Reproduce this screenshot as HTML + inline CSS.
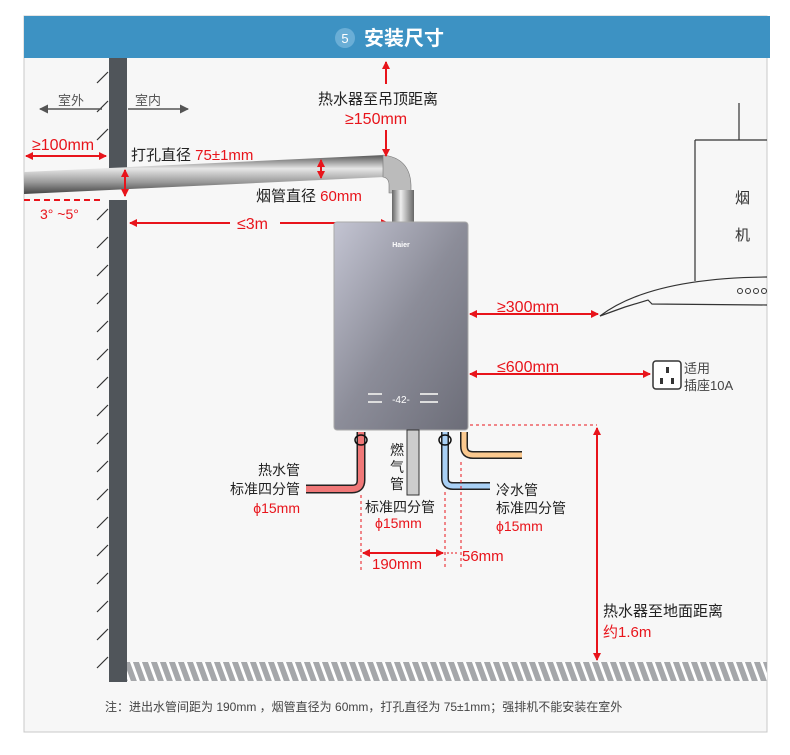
<!DOCTYPE html>
<html><head><meta charset="utf-8"><style>
body{margin:0;background:#fff;}
svg{display:block;font-family:"Liberation Sans","Noto Sans CJK SC",sans-serif;}
</style></head><body>
<svg width="790" height="755" viewBox="0 0 790 755" xmlns="http://www.w3.org/2000/svg">
<defs>
<marker id="a" markerWidth="8" markerHeight="8" refX="7" refY="4" orient="auto-start-reverse" markerUnits="userSpaceOnUse"><path d="M0,0 L8,4 L0,8z" fill="#e8141b"/></marker>
<marker id="g" markerWidth="9" markerHeight="9" refX="8" refY="4.5" orient="auto-start-reverse" markerUnits="userSpaceOnUse"><path d="M0,0 L9,4.5 L0,9z" fill="#555"/></marker>
<linearGradient id="pipe" x1="0" y1="0" x2="0" y2="1"><stop offset="0" stop-color="#555"/><stop offset=".35" stop-color="#e6e6e6"/><stop offset=".7" stop-color="#999"/><stop offset="1" stop-color="#444"/></linearGradient>
<linearGradient id="vp" x1="0" y1="0" x2="1" y2="0"><stop offset="0" stop-color="#666"/><stop offset=".4" stop-color="#eee"/><stop offset="1" stop-color="#666"/></linearGradient>
<linearGradient id="body" x1="0" y1="0" x2="1" y2="1"><stop offset="0" stop-color="#c3c4d2"/><stop offset=".5" stop-color="#8c8d99"/><stop offset="1" stop-color="#6c6d78"/></linearGradient>
<pattern id="hatch" width="9" height="18" patternUnits="userSpaceOnUse" patternTransform="skewX(20)"><rect width="9" height="18" fill="#a5a7aa"/><rect x="6" width="3" height="18" fill="#fff"/></pattern>
</defs>
<rect x="24" y="16" width="743" height="716" fill="#f7f7f7" stroke="#c8c8c8"/>
<rect x="24" y="16" width="746" height="42" fill="#3d92c3"/>
<circle cx="345" cy="38" r="10" fill="#6aaed6"/>
<text x="345" y="43" font-size="13" fill="#fff" text-anchor="middle">5</text>
<text x="364" y="45" font-size="20" fill="#fff" font-weight="bold">安装尺寸</text>
<!-- wall -->
<rect x="109" y="58" width="18" height="110" fill="#50555a"/>
<rect x="109" y="200" width="18" height="482" fill="#50555a"/>
<g stroke="#333" stroke-width="1.2">
<line x1="97" y1="83" x2="108" y2="72"/><line x1="97" y1="112" x2="108" y2="101"/><line x1="97" y1="140" x2="108" y2="129"/>
<path d="M97 220 l11 -11 M97 248 l11 -11 M97 276 l11 -11 M97 304 l11 -11 M97 332 l11 -11 M97 360 l11 -11 M97 388 l11 -11 M97 416 l11 -11 M97 444 l11 -11 M97 472 l11 -11 M97 500 l11 -11 M97 528 l11 -11 M97 556 l11 -11 M97 584 l11 -11 M97 612 l11 -11 M97 640 l11 -11 M97 668 l11 -11"/>
</g>
<rect x="127" y="662" width="640" height="19" fill="url(#hatch)"/>
<!-- 室外/室内 -->
<line x1="40" y1="109" x2="102" y2="109" stroke="#555" stroke-width="1.5" marker-start="url(#g)"/>
<line x1="128" y1="109" x2="188" y2="109" stroke="#555" stroke-width="1.5" marker-end="url(#g)"/>
<text x="58" y="105" font-size="13" fill="#555">室外</text><text x="135" y="105" font-size="13" fill="#555">室内</text>
<!-- flue pipe -->
<path d="M24 172 L385 155 L385 177 L24 194Z" fill="url(#pipe)"/>
<path d="M383 155 Q410 158 411 185 L411 193 L389 193 L389 185 Q389 178 383 177Z" fill="#bbb" stroke="#777" stroke-width=".6"/>
<rect x="392" y="190" width="22" height="34" fill="url(#vp)"/>
<!-- dims top-left -->
<text x="32" y="150" font-size="16" fill="#e8141b">≥100mm</text>
<line x1="26" y1="156" x2="106" y2="156" stroke="#e8141b" stroke-width="2" marker-start="url(#a)" marker-end="url(#a)"/>
<text x="131" y="160" font-size="15" fill="#222">打孔直径 <tspan fill="#e8141b">75±1mm</tspan></text>
<line x1="125" y1="170" x2="125" y2="196" stroke="#e8141b" stroke-width="2" marker-start="url(#a)" marker-end="url(#a)"/>
<line x1="24" y1="200" x2="100" y2="200" stroke="#e8141b" stroke-width="2" stroke-dasharray="6,4"/>
<text x="40" y="219" font-size="14" fill="#e8141b">3° ~5°</text>
<line x1="321" y1="160" x2="321" y2="178" stroke="#e8141b" stroke-width="2" marker-start="url(#a)" marker-end="url(#a)"/>
<text x="256" y="201" font-size="15" fill="#222">烟管直径 <tspan fill="#e8141b">60mm</tspan></text>
<line x1="130" y1="223" x2="230" y2="223" stroke="#e8141b" stroke-width="2" marker-start="url(#a)"/>
<line x1="280" y1="223" x2="388" y2="223" stroke="#e8141b" stroke-width="2" marker-end="url(#a)"/>
<text x="237" y="229" font-size="16" fill="#e8141b">≤3m</text>
<line x1="386" y1="84" x2="386" y2="62" stroke="#e8141b" stroke-width="2" marker-end="url(#a)"/>
<text x="318" y="104" font-size="15" fill="#222">热水器至吊顶距离</text>
<text x="345" y="124" font-size="16" fill="#e8141b">≥150mm</text>
<line x1="386" y1="130" x2="386" y2="156" stroke="#e8141b" stroke-width="2" marker-end="url(#a)"/>
<!-- heater -->
<rect x="334" y="222" width="134" height="208" rx="3" fill="url(#body)" stroke="#aaa"/>
<text x="401" y="247" font-size="7" fill="#fff" text-anchor="middle" font-weight="bold">Haier</text>
<text x="401" y="403" font-size="10" fill="#fff" text-anchor="middle">-42-</text>
<g fill="#ddd"><rect x="368" y="393" width="14" height="2"/><rect x="368" y="401" width="14" height="2"/><rect x="420" y="393" width="18" height="2"/><rect x="420" y="401" width="18" height="2"/></g>
<!-- pipes below -->
<path d="M361 432 L361 480 Q361 489 352 489 L306 489" fill="none" stroke="#222" stroke-width="9"/>
<path d="M361 432 L361 480 Q361 489 352 489 L306 489" fill="none" stroke="#f07878" stroke-width="6"/>
<ellipse cx="361" cy="440" rx="6" ry="5" fill="none" stroke="#111" stroke-width="1.5"/>
<rect x="407" y="430" width="12" height="65" fill="#ccc" stroke="#333" stroke-width="1"/>
<path d="M445 432 L445 478 Q445 486 453 486 L490 486" fill="none" stroke="#222" stroke-width="8"/>
<path d="M445 432 L445 478 Q445 486 453 486 L490 486" fill="none" stroke="#a9d0f5" stroke-width="5"/>
<ellipse cx="445" cy="440" rx="6" ry="5" fill="none" stroke="#111" stroke-width="1.5"/>
<path d="M464 432 L464 446 Q464 455 473 455 L522 455" fill="none" stroke="#222" stroke-width="8"/>
<path d="M464 432 L464 446 Q464 455 473 455 L522 455" fill="none" stroke="#fbc98f" stroke-width="5"/>
<text font-size="14" fill="#222"><tspan x="390" y="455">燃</tspan><tspan x="390" y="472">气</tspan><tspan x="390" y="489">管</tspan></text>
<text font-size="14" fill="#222" text-anchor="end"><tspan x="300" y="475">热水管</tspan><tspan x="300" y="494">标准四分管</tspan></text>
<text x="300" y="513" font-size="14" fill="#e8141b" text-anchor="end">ϕ15mm</text>
<text x="365" y="512" font-size="14" fill="#222">标准四分管</text>
<text x="375" y="528" font-size="14" fill="#e8141b">ϕ15mm</text>
<text x="496" y="495" font-size="14" fill="#222">冷水管</text>
<text x="496" y="513" font-size="14" fill="#222">标准四分管</text>
<text x="496" y="531" font-size="14" fill="#e8141b">ϕ15mm</text>
<g stroke="#e8141b" stroke-dasharray="3,3" stroke-width="1"><line x1="361" y1="495" x2="361" y2="570"/><line x1="445" y1="492" x2="445" y2="570"/><line x1="461" y1="462" x2="461" y2="570"/><line x1="470" y1="425" x2="597" y2="425"/></g>
<line x1="363" y1="553" x2="443" y2="553" stroke="#e8141b" stroke-width="2" marker-start="url(#a)" marker-end="url(#a)"/>
<text x="372" y="569" font-size="15" fill="#e8141b">190mm</text>
<line x1="447" y1="553" x2="459" y2="553" stroke="#e8141b" stroke-width="1" stroke-dasharray="2,2"/>
<text x="462" y="561" font-size="15" fill="#e8141b">56mm</text>
<line x1="597" y1="660" x2="597" y2="428" stroke="#e8141b" stroke-width="2" marker-start="url(#a)" marker-end="url(#a)"/>
<text x="603" y="616" font-size="15" fill="#222">热水器至地面距离</text>
<text x="603" y="637" font-size="15" fill="#e8141b">约1.6m</text>
<!-- right dims -->
<line x1="470" y1="314" x2="598" y2="314" stroke="#e8141b" stroke-width="2" marker-start="url(#a)" marker-end="url(#a)"/>
<text x="497" y="312" font-size="16" fill="#e8141b">≥300mm</text>
<line x1="470" y1="374" x2="650" y2="374" stroke="#e8141b" stroke-width="2" marker-start="url(#a)" marker-end="url(#a)"/>
<text x="497" y="372" font-size="16" fill="#e8141b">≤600mm</text>
<rect x="653" y="361" width="28" height="28" rx="3" fill="#fff" stroke="#333" stroke-width="1.5"/>
<rect x="666" y="367" width="3" height="6" fill="#333"/><rect x="660" y="378" width="3" height="6" fill="#333"/><rect x="671" y="378" width="3" height="6" fill="#333"/>
<text x="684" y="373" font-size="13" fill="#444">适用</text>
<text x="684" y="390" font-size="13" fill="#444">插座10A</text>
<!-- hood -->
<g fill="none" stroke="#333" stroke-width="1.2">
<path d="M739 103 L739 140 L767 140 M695 140 L739 140 M695 140 L695 281"/>
<path d="M600 316 Q650 278 767 277"/>
<path d="M600 316 L625 307 L648 300 L652 304 L767 305"/>
</g>
<text x="735" y="203" font-size="15" fill="#333">烟</text>
<text x="735" y="240" font-size="15" fill="#333">机</text>
<g fill="none" stroke="#333"><circle cx="740" cy="291" r="2.5"/><circle cx="748" cy="291" r="2.5"/><circle cx="756" cy="291" r="2.5"/><circle cx="764" cy="291" r="2.5"/></g>
<text x="105" y="711" font-size="12" fill="#444">注：进出水管间距为 190mm ，烟管直径为 60mm，打孔直径为 75±1mm；强排机不能安装在室外</text>
</svg>
</body></html>
